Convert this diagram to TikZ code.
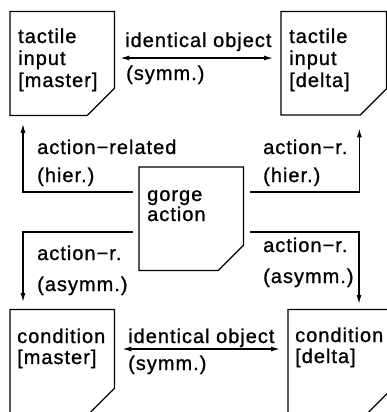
\documentclass[tikz,border=0pt]{standalone}
\usepackage{fontspec}
\newfontfamily\lblfont{Liberation Sans}[LetterSpace=5,FakeBold=1]
\usetikzlibrary{arrows.meta}

% outline of a box whose lower right corner is cut off
\newcommand\cutbox[2]{%
  \draw[boxline] (#1.north west) -- (#1.north east)
    -- ([yshift=#2pt]#1.south east) -- ([xshift=-#2pt]#1.south east)
    -- (#1.south west) -- cycle;}

\begin{document}
\begin{tikzpicture}[x=1pt,y=-1pt,
  boxline/.style={line width=1.2pt, line join=miter},
  frame/.style={draw=none, inner sep=0pt, anchor=north west},
  % multi-line texts are placed by the baseline of their last line
  txt/.style={inner sep=0pt, anchor=base west, align=left,
    font=\lblfont\fontsize{20}{22}\selectfont},
  link/.style={line width=1.2pt, -{Latex[length=9pt,width=5pt]}},
  twoway/.style={line width=1.2pt, {Latex[length=9pt,width=5pt]}-{Latex[length=9pt,width=5pt]}}]

\useasboundingbox (0,0) rectangle (387,412);
\clip (0,0) rectangle (387,412);

% boxes
\node[frame, minimum width=104pt, minimum height=103.5pt] (tim) at (10,11.5) {};
\node[frame, minimum width=105pt, minimum height=103pt]   (tid) at (281,11.5) {};
\node[frame, minimum width=104pt, minimum height=103pt]   (ga)  at (139,167) {};
\node[frame, minimum width=104pt, minimum height=105.5pt] (cml) at (10,309.5) {};
\node[frame, minimum width=104pt, minimum height=105.5pt] (cmd) at (288,309.5) {};
\cutbox{tim}{27}
\cutbox{tid}{26}
\cutbox{ga}{25}
\cutbox{cml}{27}
\cutbox{cmd}{27}

% box texts
\node[txt] (timt) at (18,87)  {tactile\\input\\{}[master]};
\node[txt] (tidt) at (289,87) {tactile\\input\\{}[delta]};
\node[txt, font=\lblfont\fontsize{20}{20}\selectfont] (gat) at (147,221) {gorge\\action};
\node[txt, font=\lblfont\fontsize{20}{21}\selectfont] (cmlt) at (17,364) {condition\\{}[master]};
\node[txt, font=\lblfont\fontsize{20}{21}\selectfont] (cmdt) at (295,363) {condition\\{}[delta]};

% symmetric links between master and delta
\draw[twoway] ([shift={(6,46.5)}]tim.north east) -- ([shift={(-8,46.5)}]tid.north west);
\node[txt] (l1a) at (125,47) {identical object};
\node[txt] (l1b) at (126,80) {(symm.)};

\draw[twoway] ([shift={(8,39.5)}]cml.north east) -- ([shift={(-8,39.5)}]cmd.north west);
\node[txt] (l2a) at (128,343) {identical object};
\node[txt] (l2b) at (128,370) {(symm.)};

% links leaving the action box
\draw[link] ([shift={(-6,25)}]ga.north west) -| ([shift={(13,8.5)}]tim.south west);
\node[txt] (l3a) at (37,154) {action−related};
\node[txt] (l3b) at (37,182) {(hier.)};

\draw[link] ([shift={(7,25)}]ga.north east) -| ([shift={(-27,13.5)}]tid.south east);
\node[txt] (l4a) at (263,154) {action−r.};
\node[txt] (l4b) at (263,182) {(hier.)};

\draw[link] ([shift={(-6,65)}]ga.north west) -| ([shift={(13,-7.5)}]cml.north west);
\node[txt] (l5a) at (37,260) {action−r.};
\node[txt] (l5b) at (37,291) {(asymm.)};

\draw[link] ([shift={(7,65)}]ga.north east) -| ([shift={(71,-5.5)}]cmd.north west);
\node[txt] (l6a) at (263,252) {action−r.};
\node[txt] (l6b) at (263,283) {(asymm.)};
\end{tikzpicture}
\end{document}
